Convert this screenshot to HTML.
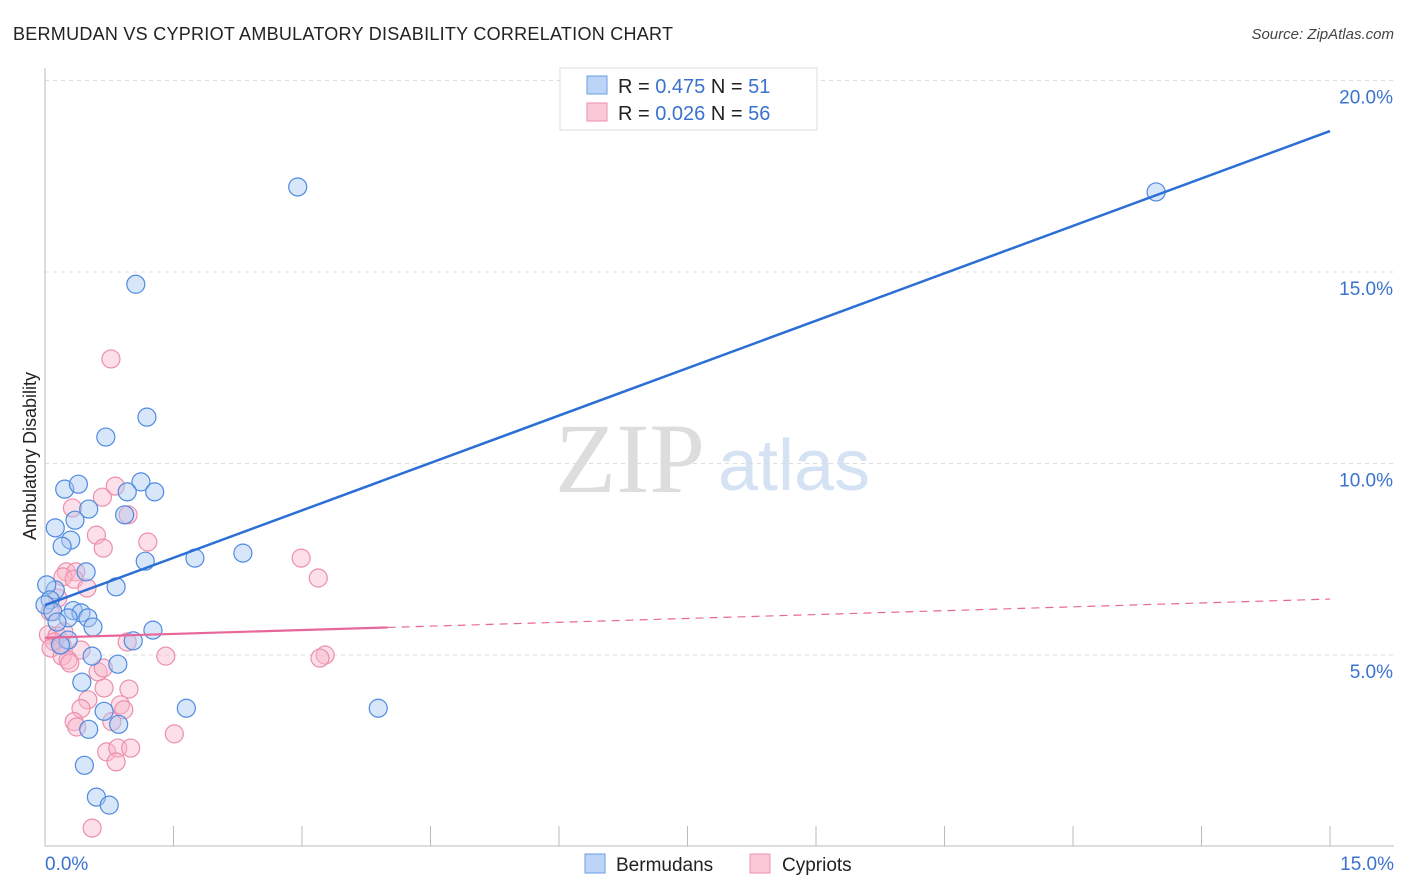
<!DOCTYPE html>
<html><head><meta charset="utf-8"><style>
body{margin:0;background:#fff;font-family:"Liberation Sans",sans-serif;}
svg{display:block}
</style></head><body>
<svg id="chart" width="1406" height="892" xmlns="http://www.w3.org/2000/svg">
<text x="13" y="40" font-size="18" fill="#222" textLength="660">BERMUDAN VS CYPRIOT AMBULATORY DISABILITY CORRELATION CHART</text>
<text x="1394" y="39" font-size="15" fill="#444" font-style="italic" text-anchor="end">Source: ZipAtlas.com</text>
<text x="555" y="492" font-size="100" fill="#ddd" font-family="Liberation Serif,serif">ZIP</text>
<text x="718" y="490" font-size="72" fill="#d4e2f4">atlas</text>
<text x="36" y="456" font-size="18" fill="#222" text-anchor="middle" transform="rotate(-90 36 456)">Ambulatory Disability</text>
<g id="grid"></g><g id="pts"></g><g id="lines"></g>
<g>
<rect x="560" y="68" width="257" height="62" fill="#fff" stroke="#ddd"/>
<rect x="587" y="76" width="20" height="18" fill="#bcd4f5" stroke="#6a9ee6"/>
<rect x="587" y="103" width="20" height="18" fill="#fbc8d6" stroke="#ec8fab"/>
<text x="618" y="93" font-size="20" fill="#222">R = <tspan fill="#3a72d0">0.475</tspan>   N =  <tspan fill="#3a72d0">51</tspan></text>
<text x="618" y="120" font-size="20" fill="#222">R = <tspan fill="#3a72d0">0.026</tspan>   N = <tspan fill="#3a72d0">56</tspan></text>
</g>
<g>
<rect x="585" y="854" width="20" height="19" fill="#bcd4f5" stroke="#6a9ee6"/>
<text x="616" y="871" font-size="19" fill="#222">Bermudans</text>
<rect x="750" y="854" width="20" height="19" fill="#fbc8d6" stroke="#ec8fab"/>
<text x="782" y="871" font-size="19" fill="#222">Cypriots</text>
</g>
</svg>
<script>
const yTicks=[5,10,15,20];
const xTickLabels=["0.0%","15.0%"];
const blueX=[2.95,12.97,1.06,1.19,0.71,0.23,0.39,1.12,0.96,1.28,0.51,0.35,0.93,0.12,0.30,0.20,2.31,1.75,1.17,0.48,0.83,0.12,0.02,0.06,0,0.09,0.33,0.42,0.50,0.27,0.14,0.56,1.26,1.03,0.27,0.18,0.55,0.85,0.43,0.69,1.65,3.89,0.86,0.51,0.46,0.60,0.75];
const blueY=[17.22,17.09,14.68,11.21,10.69,9.33,9.46,9.52,9.26,9.26,8.81,8.52,8.66,8.32,8.00,7.84,7.66,7.53,7.45,7.17,6.78,6.70,6.83,6.44,6.31,6.13,6.16,6.10,5.97,5.97,5.86,5.73,5.65,5.37,5.39,5.26,4.97,4.76,4.29,3.53,3.61,3.61,3.19,3.06,2.12,1.29,1.08];
const pinkX=[0.77,0.32,0.67,0.82,0.97,0.60,0.68,1.20,2.99,3.19,0.25,0.36,0.21,0.34,0.49,0.15,0.06,0.04,0.14,0.22,0.11,0.20,0.07,0.42,0.96,1.41,3.27,3.21,0.20,0.27,0.29,0.62,0.68,0.98,0.50,0.42,0.69,0.88,0.92,0.34,0.37,0.78,1.51,0.72,0.85,1.00,0.83,0.55];
const pinkY=[12.73,8.84,9.12,9.41,8.66,8.13,7.79,7.95,7.53,7.01,7.17,7.17,7.04,6.98,6.75,6.49,6.13,5.53,5.50,5.61,5.34,5.26,5.18,5.13,5.34,4.97,5.00,4.92,4.97,4.87,4.79,4.56,4.66,4.11,3.83,3.60,4.14,3.70,3.57,3.26,3.12,3.26,2.94,2.47,2.57,2.57,2.21,0.48];
const blueLine=[6.3,18.68];
const pinkLine=[5.45,6.46];
const pinkSolidEnd=4.0;
const X=v=>45+v*(1285/15), Y=v=>846.5-v*38.3;
const NS="http://www.w3.org/2000/svg";
function mk(t,a,p){const e=document.createElementNS(NS,t);for(const k in a)e.setAttribute(k,a[k]);p.appendChild(e);return e;}
const g=document.getElementById('grid');
yTicks.forEach(t=>{
 const l=mk('line',{x1:45,x2:1394,y1:Y(t),y2:Y(t),stroke:'#ddd','stroke-dasharray':'4,4'},g);
 
 
 const tx=mk('text',{x:1393,y:Y(t)+23,'font-size':19,fill:'#3a72d0','text-anchor':'end'},g);
 tx.textContent=t.toFixed(1)+'%';
 
 
});
const ax=mk('line',{x1:45,x2:45,y1:68,y2:846,stroke:'#bbb'},g);


const bx=mk('line',{x1:45,x2:1394,y1:846,y2:846,stroke:'#bbb'},g);


for(let i=0;i<=10;i++){
 const t=mk('line',{x1:X(i*1.5),x2:X(i*1.5),y1:826,y2:846,stroke:'#bbb'},g);
 
 
}
[[0,'start',45],[15,'end',1394]].forEach((d,i)=>{
 const t=mk('text',{x:d[2],y:870,'font-size':19,fill:'#3a72d0','text-anchor':d[1]},g);
 t.textContent=xTickLabels[i];
 
 
});
const p=document.getElementById('pts');
function dots(xs,ys,fill,stroke,name){xs.forEach((x,i)=>{
 const c=mk('circle',{cx:X(x),cy:Y(ys[i]),r:9,fill:fill,'fill-opacity':0.45,stroke:stroke,'stroke-width':1.2},p);
 
 
});}
dots(pinkX,pinkY,'#f8b8cb','#ec8fab','cypriot-point');
dots(blueX,blueY,'#a9c8f2','#4f8ae0','bermudan-point');
const L=document.getElementById('lines');
const b=mk('line',{x1:X(0),y1:Y(blueLine[0]),x2:X(15),y2:Y(blueLine[1]),stroke:'#2b6fd6','stroke-width':2.5},L);


const pe=pinkLine[0]+(pinkLine[1]-pinkLine[0])*pinkSolidEnd/15;
const ps=mk('line',{x1:X(0),y1:Y(pinkLine[0]),x2:X(pinkSolidEnd),y2:Y(pe),stroke:'#e8679a','stroke-width':2.2},L);


const pd=mk('line',{x1:X(pinkSolidEnd),y1:Y(pe),x2:X(15),y2:Y(pinkLine[1]),stroke:'#e8679a','stroke-width':1.2,'stroke-dasharray':'8,6'},L);


</script>
</body></html>
